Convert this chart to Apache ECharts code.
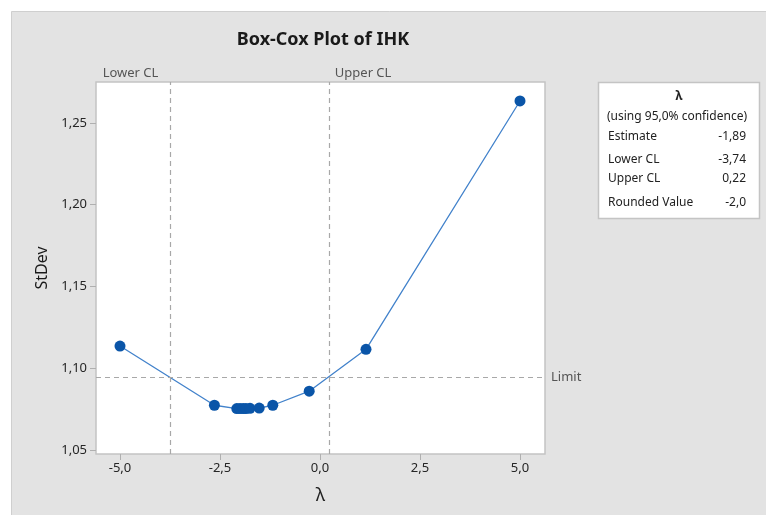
<!DOCTYPE html>
<html>
<head>
<meta charset="utf-8">
<script src="https://cdn.jsdelivr.net/npm/echarts@6/dist/echarts.min.js"></script>
<style>
  html, body { margin: 0; padding: 0; background: #ffffff; }
  #chart { width: 766px; height: 515px; }
</style>
</head>
<body>
<div id="chart"></div>
<script>
// Lambda values evaluated by the Box-Cox search and the resulting standard deviations
const lambdas = [-5.0, -2.64, -2.08, -2.0, -1.92, -1.85, -1.75, -1.52, -1.18, -0.27, 1.15, 5.0];
const stdevs  = [1.1136, 1.0774, 1.0754, 1.0754, 1.0754, 1.0754, 1.0755, 1.0757, 1.0774, 1.0860, 1.1116, 1.2634];

// Confidence limits and the StDev limit line
const lowerCL = -3.74;
const upperCL = 0.22;
const stdevLimit = 1.0947;

// Tick positions
const xTicks = [-5.0, -2.5, 0.0, 2.5, 5.0];
const yTicks = [1.05, 1.10, 1.15, 1.20, 1.25];

// Summary table rows
const tableLabels = ['Estimate', 'Lower CL', 'Upper CL', 'Rounded Value'];
const tableValues = ['-1,89', '-3,74', '0,22', '-2,0'];

const FONT = 'Noto Sans';
const fmt = (v, d) => v.toFixed(d).replace('.', ',');

const chart = echarts.init(document.getElementById('chart'));

const tableRowsY = [137, 160, 179, 203];
const tableGraphics = [];
tableLabels.forEach((t, i) => {
  tableGraphics.push({
    type: 'text', x: 608, y: tableRowsY[i],
    style: { text: t, font: '12px "' + FONT + '"', fill: '#222', textVerticalAlign: 'middle' }
  });
  tableGraphics.push({
    type: 'text', x: 746, y: tableRowsY[i],
    style: { text: tableValues[i], font: '12px "' + FONT + '"', fill: '#222', textAlign: 'right', textVerticalAlign: 'middle' }
  });
});

chart.setOption({
  animation: false,
  textStyle: { fontFamily: FONT },
  title: {
    text: 'Box-Cox Plot of IHK',
    left: 318, top: 26, textAlign: 'center',
    textStyle: { fontSize: 18, fontWeight: 'bold', color: '#1a1a1a', fontFamily: FONT }
  },
  graphic: [
    {
      type: 'rect', z: -10, silent: true,
      shape: { x: 11.5, y: 11.5, width: 770, height: 520 },
      style: { fill: '#e3e3e3', stroke: '#cfcfcf', lineWidth: 1 }
    },
    {
      type: 'rect',
      shape: { x: 598.5, y: 82.5, width: 161, height: 136 },
      style: { fill: '#ffffff', stroke: '#c4c4c4', lineWidth: 1.5 }
    },
    {
      type: 'text', x: 679, y: 97,
      style: { text: 'λ', font: 'bold 12px "' + FONT + '"', fill: '#222', textAlign: 'center', textVerticalAlign: 'middle' }
    },
    {
      type: 'text', x: 677, y: 117,
      style: { text: '(using 95,0% confidence)', font: '12px "' + FONT + '"', fill: '#222', textAlign: 'center', textVerticalAlign: 'middle' }
    }
  ].concat(tableGraphics),
  grid: {
    left: 96, top: 82, width: 449, height: 372,
    show: true, backgroundColor: '#ffffff', borderColor: '#c4c4c4', borderWidth: 1.5
  },
  xAxis: {
    type: 'value', min: -5.6, max: 5.625,
    name: 'λ', nameLocation: 'middle', nameGap: 33,
    nameTextStyle: { fontSize: 18, color: '#222', fontFamily: FONT },
    axisLine: { show: false, onZero: false },
    splitLine: { show: false },
    axisTick: { show: true, customValues: xTicks, length: 6, lineStyle: { color: '#b0b0b0' } },
    axisLabel: {
      customValues: xTicks, formatter: v => fmt(v, 1),
      fontSize: 13, color: '#262626', margin: 8
    }
  },
  yAxis: {
    type: 'value', min: 1.0476, max: 1.2750,
    name: 'StDev', nameLocation: 'middle', nameGap: 43, nameRotate: 90,
    nameTextStyle: { fontSize: 16, color: '#1a1a1a', fontFamily: FONT },
    axisLine: { show: false, onZero: false },
    splitLine: { show: false },
    axisTick: { show: true, customValues: yTicks, length: 6, lineStyle: { color: '#b0b0b0' } },
    axisLabel: {
      customValues: yTicks, formatter: v => fmt(v, 2),
      fontSize: 13, color: '#262626', margin: 9
    }
  },
  series: [
    {
      type: 'line',
      data: lambdas.map((l, i) => [l, stdevs[i]]),
      symbol: 'circle', symbolSize: 11,
      itemStyle: { color: '#0a55a8' },
      lineStyle: { color: '#4282cb', width: 1.3 },
      markLine: {
        silent: true, symbol: 'none', animation: false, precision: 4,
        lineStyle: { type: [5, 4], color: '#a8a8a8', width: 1.2 },
        label: { color: '#555', fontSize: 13, fontFamily: FONT },
        data: [
          { xAxis: lowerCL, label: { formatter: 'Lower CL', position: 'end', align: 'right', offset: [-12, 3] } },
          { xAxis: upperCL, label: { formatter: 'Upper CL', position: 'end', align: 'left', offset: [6, 3] } },
          { yAxis: stdevLimit, label: { formatter: 'Limit', position: 'end', distance: 6 } }
        ]
      }
    }
  ]
});
</script>
</body>
</html>
